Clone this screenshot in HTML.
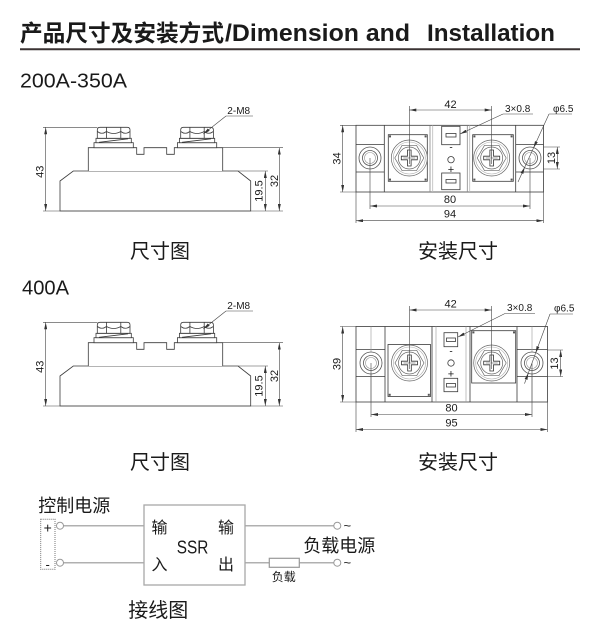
<!DOCTYPE html>
<html><head><meta charset="utf-8">
<style>
html,body{margin:0;padding:0;background:#fff;}
svg{display:block;}
text{font-family:"Liberation Sans","Noto Sans CJK SC",sans-serif;fill:#1a1a1a;}
</style></head><body>
<svg width="600" height="640" viewBox="0 0 600 640" xmlns="http://www.w3.org/2000/svg">
<defs>
<marker id="a" viewBox="0 0 7 3" refX="7" refY="1.5" markerWidth="7" markerHeight="3" markerUnits="userSpaceOnUse" orient="auto-start-reverse"><path d="M0,0L7,1.5L0,3z" fill="#333"/></marker>
<g id="scr" fill="none" stroke="#666" stroke-width="0.7">
<circle r="18" fill="#fff"/>
<circle r="16" stroke="#aaa" stroke-width="0.6"/>
<polygon points="14.5,0 7.25,12.56 -7.25,12.56 -14.5,0 -7.25,-12.56 7.25,-12.56"/>
<circle r="11"/>
<path d="M-8,-1.8H-1.8V-8H1.8V-1.8H8V1.8H1.8V8H-1.8V1.8H-8Z" stroke="#333" stroke-width="0.8"/>
<path d="M-6,0H6M0,-6V6" stroke-width="0.6" stroke="#444"/>
</g>
<g id="hole" fill="none" stroke="#555" stroke-width="0.8">
<circle r="11" fill="#fff"/>
<circle r="7.5"/>
<circle r="5.5" stroke="#999" stroke-width="0.6"/>
</g>
</defs>

<!-- Title -->
<text x="20" y="41" font-size="23" font-weight="bold" textLength="204" lengthAdjust="spacingAndGlyphs">产品尺寸及安装方式</text>
<text x="225" y="41" font-size="24" font-weight="bold" textLength="185" lengthAdjust="spacingAndGlyphs">/Dimension and</text>
<text x="427" y="41" font-size="24" font-weight="bold" textLength="128" lengthAdjust="spacingAndGlyphs">Installation</text>
<line x1="20" y1="49.3" x2="580" y2="49.3" stroke="#3b3333" stroke-width="2"/>

<text x="20" y="87.3" font-size="20" textLength="107" lengthAdjust="spacingAndGlyphs">200A-350A</text>

<!-- ========== TOP LEFT side view ========== -->
<g fill="#fff" stroke="#3a3a3a" stroke-width="0.8">
<path d="M60,211V181L73.3,171H238L250.7,181V211Z"/>
<path d="M88.3,171V147.7H136.7V154.3H144V147.7H166.7V154.3H174.3V147.7H222.7V171"/>
<rect x="94" y="142.7" width="39.3" height="5"/>
<rect x="96" y="138.3" width="35.3" height="4.4"/>
<path d="M99,142.3L128,138.8" fill="none"/>
<path d="M97.3,138.3V130Q97.3,127.3 100,127.3H127.3Q130,127.3 130,130V138.3Z"/>
<path d="M106.5,127.5V138.3M120.8,127.5V138.3M97.3,131.5Q101.9,135 106.5,131.5Q113.7,135.5 120.8,131.5Q125.4,135 130,131.5" fill="none"/>
<rect x="177.4" y="142.7" width="39.3" height="5"/>
<rect x="179.4" y="138.3" width="35.3" height="4.4"/>
<path d="M182,142.3L211,138.8" fill="none"/>
<path d="M180.7,138.3V130Q180.7,127.3 183.4,127.3H210.7Q213.4,127.3 213.4,130V138.3Z"/>
<path d="M189.9,127.5V138.3M204.2,127.5V138.3M180.7,131.5Q185.3,135 189.9,131.5Q197,135.5 204.2,131.5Q208.8,135 213.4,131.5" fill="none"/>
</g>
<g fill="none" stroke="#444" stroke-width="0.6">
<path d="M43,127.3H97.3M43,211H283M222.7,147.7H283M238,171H268M226,116H253"/>
<line x1="45.7" y1="127.3" x2="45.7" y2="211" marker-start="url(#a)" marker-end="url(#a)"/>
<line x1="279.3" y1="147.7" x2="279.3" y2="211" marker-start="url(#a)" marker-end="url(#a)"/>
<line x1="265.3" y1="171" x2="265.3" y2="211" marker-start="url(#a)" marker-end="url(#a)"/>
<line x1="226" y1="116" x2="203.3" y2="134" marker-end="url(#a)"/>
</g>
<g font-size="11">
<text x="40.3" y="171.7" transform="rotate(-90 40.3 171.7)" text-anchor="middle" dominant-baseline="central">43</text>
<text x="275" y="181" transform="rotate(-90 275 181)" text-anchor="middle" dominant-baseline="central">32</text>
<text x="259.3" y="191" transform="rotate(-90 259.3 191)" text-anchor="middle" dominant-baseline="central">19.5</text>
<text x="227.3" y="114" font-size="10">2-M8</text>
</g>

<!-- ========== TOP RIGHT top view ========== -->
<g fill="none" stroke="#3a3a3a" stroke-width="0.8">
<rect x="356" y="125.3" width="187.5" height="66.7" fill="#fff"/>
<path d="M384.3,125.3V192M515.7,125.3V192M356,144.5H384.3M356,172H384.3M515.7,144.5H543.5M515.7,172H543.5"/>
<rect x="388.3" y="134.7" width="39" height="46.6"/>
<rect x="472.7" y="134.7" width="40.6" height="46.6"/>
<path d="M430,125.3V192M467.3,125.3V192" stroke="#888"/>
<path d="M432.7,125.3V192M469.7,125.3V192" stroke="#bbb"/>
<rect x="441.7" y="126.3" width="18.3" height="18.4"/>
<rect x="446" y="133.5" width="10" height="3.5"/>
<rect x="441.7" y="173" width="18.3" height="16.7"/>
<rect x="446" y="179.5" width="10" height="3.5"/>
<circle cx="451" cy="159.7" r="3.2"/>
</g>
<g fill="#555">
<rect x="389" y="135.4" width="2" height="2"/><rect x="424.6" y="135.4" width="2" height="2"/>
<rect x="389" y="178.6" width="2" height="2"/><rect x="424.6" y="178.6" width="2" height="2"/>
<rect x="473.4" y="135.4" width="2" height="2"/><rect x="510.6" y="135.4" width="2" height="2"/>
<rect x="473.4" y="178.6" width="2" height="2"/><rect x="510.6" y="178.6" width="2" height="2"/>
</g>
<use href="#scr" x="409.3" y="158"/>
<use href="#scr" x="491.7" y="158"/>
<use href="#hole" x="370" y="158"/>
<use href="#hole" x="530" y="158"/>
<text x="451" y="148" font-size="10" text-anchor="middle" dominant-baseline="central">-</text>
<text x="451" y="170" font-size="11" text-anchor="middle" dominant-baseline="central">+</text>
<g fill="none" stroke="#444" stroke-width="0.6">
<path d="M409.3,106V158M491.7,106V158M503,114H533M549,114H572M543.5,147H560M543.5,169H560M340,125.3H356M340,192H356M370,158V209M530,158V209M356,192V223M543.5,192V223M533.5,148L524.8,167"/>
<line x1="409.3" y1="110" x2="491.7" y2="110" marker-start="url(#a)" marker-end="url(#a)"/>
<line x1="503" y1="114" x2="460" y2="134" marker-end="url(#a)"/>
<line x1="549" y1="114" x2="533.5" y2="148" marker-end="url(#a)"/>
<line x1="518" y1="182" x2="524.8" y2="167" marker-end="url(#a)"/>
<line x1="557.3" y1="147" x2="557.3" y2="169" marker-start="url(#a)" marker-end="url(#a)"/>
<line x1="342.7" y1="125.3" x2="342.7" y2="192" marker-start="url(#a)" marker-end="url(#a)"/>
<line x1="370" y1="206" x2="530" y2="206" marker-start="url(#a)" marker-end="url(#a)"/>
<line x1="356" y1="220.7" x2="543.5" y2="220.7" marker-start="url(#a)" marker-end="url(#a)"/>
</g>
<g font-size="11">
<text x="450.5" y="108" text-anchor="middle">42</text>
<text x="505" y="112" font-size="10">3×0.8</text>
<text x="553" y="112" font-size="10">φ6.5</text>
<text x="552" y="158" transform="rotate(-90 552 158)" text-anchor="middle" dominant-baseline="central">13</text>
<text x="337.5" y="158.5" transform="rotate(-90 337.5 158.5)" text-anchor="middle" dominant-baseline="central">34</text>
<text x="450" y="203" text-anchor="middle">80</text>
<text x="450" y="217.5" text-anchor="middle">94</text>
</g>

<!-- captions row 1 -->
<text x="130" y="258" font-size="20">尺寸图</text>
<text x="418" y="258" font-size="20">安装尺寸</text>

<text x="22" y="294.5" font-size="20" textLength="47" lengthAdjust="spacingAndGlyphs">400A</text>

<!-- ========== BOTTOM LEFT side view (400A) ========== -->
<g transform="translate(0,195)">
<g fill="#fff" stroke="#3a3a3a" stroke-width="0.8">
<path d="M60,211V181L73.3,171H238L250.7,181V211Z"/>
<path d="M88.3,171V147.7H136.7V154.3H144V147.7H166.7V154.3H174.3V147.7H222.7V171"/>
<rect x="94" y="142.7" width="39.3" height="5"/>
<rect x="96" y="138.3" width="35.3" height="4.4"/>
<path d="M99,142.3L128,138.8" fill="none"/>
<path d="M97.3,138.3V130Q97.3,127.3 100,127.3H127.3Q130,127.3 130,130V138.3Z"/>
<path d="M106.5,127.5V138.3M120.8,127.5V138.3M97.3,131.5Q101.9,135 106.5,131.5Q113.7,135.5 120.8,131.5Q125.4,135 130,131.5" fill="none"/>
<rect x="177.4" y="142.7" width="39.3" height="5"/>
<rect x="179.4" y="138.3" width="35.3" height="4.4"/>
<path d="M182,142.3L211,138.8" fill="none"/>
<path d="M180.7,138.3V130Q180.7,127.3 183.4,127.3H210.7Q213.4,127.3 213.4,130V138.3Z"/>
<path d="M189.9,127.5V138.3M204.2,127.5V138.3M180.7,131.5Q185.3,135 189.9,131.5Q197,135.5 204.2,131.5Q208.8,135 213.4,131.5" fill="none"/>
</g>
<g fill="none" stroke="#444" stroke-width="0.6">
<path d="M43,127.3H97.3M43,211H283M222.7,147.7H283M238,171H268M226,116H253"/>
<line x1="45.7" y1="127.3" x2="45.7" y2="211" marker-start="url(#a)" marker-end="url(#a)"/>
<line x1="279.3" y1="147.7" x2="279.3" y2="211" marker-start="url(#a)" marker-end="url(#a)"/>
<line x1="265.3" y1="171" x2="265.3" y2="211" marker-start="url(#a)" marker-end="url(#a)"/>
<line x1="226" y1="116" x2="203.3" y2="134" marker-end="url(#a)"/>
</g>
<g font-size="11">
<text x="40.3" y="171.7" transform="rotate(-90 40.3 171.7)" text-anchor="middle" dominant-baseline="central">43</text>
<text x="275" y="181" transform="rotate(-90 275 181)" text-anchor="middle" dominant-baseline="central">32</text>
<text x="259.3" y="191" transform="rotate(-90 259.3 191)" text-anchor="middle" dominant-baseline="central">19.5</text>
<text x="227.3" y="114" font-size="10">2-M8</text>
</g>
</g>

<!-- ========== BOTTOM RIGHT top view (400A) ========== -->
<g fill="none" stroke="#3a3a3a" stroke-width="0.8">
<rect x="356" y="326.5" width="191.5" height="75.5" fill="#fff"/>
<path d="M385,326.5V402M432,326.5V402M470,326.5V402M517,326.5V402M356,349.5H385M356,376.5H385M517,349.5H547.5M517,376.5H547.5"/>
<path d="M371,326.5V402M436,326.5V402M466,326.5V402M532,326.5V402" stroke="#999" stroke-width="0.6"/>
<rect x="388" y="344.5" width="42.5" height="52"/>
<rect x="471.7" y="330.7" width="44" height="52.3"/>
<rect x="444" y="332.7" width="13.7" height="14"/>
<rect x="446.5" y="338" width="9" height="3.5"/>
<rect x="444" y="378.3" width="13.7" height="13.4"/>
<rect x="446.5" y="383.5" width="9" height="3.5"/>
<circle cx="451" cy="363" r="3.2"/>
</g>
<g fill="#555">
<rect x="388.7" y="393.8" width="2" height="2"/><rect x="427.8" y="393.8" width="2" height="2"/>
<rect x="472.4" y="331.4" width="2" height="2"/><rect x="513" y="331.4" width="2" height="2"/>
</g>
<use href="#scr" x="409.5" y="363"/>
<use href="#scr" x="491.7" y="363"/>
<use href="#hole" x="371" y="363"/>
<use href="#hole" x="532" y="363"/>
<text x="451" y="352" font-size="10" text-anchor="middle" dominant-baseline="central">-</text>
<text x="451" y="374.5" font-size="11" text-anchor="middle" dominant-baseline="central">+</text>
<g fill="none" stroke="#444" stroke-width="0.6">
<path d="M409.5,306V363M491.7,306V363M505,313.5H535M550,314H573M547.5,350H563M547.5,376.5H563M340,326.5H356M340,402H356M371,363V417M532,363V417M356,402V432M547.5,402V432M535.6,353.1L528.4,372.9"/>
<line x1="409.5" y1="310" x2="491.7" y2="310" marker-start="url(#a)" marker-end="url(#a)"/>
<line x1="505" y1="313.5" x2="458" y2="337" marker-end="url(#a)"/>
<line x1="550" y1="314" x2="535.6" y2="353.1" marker-end="url(#a)"/>
<line x1="524.5" y1="383.6" x2="528.4" y2="372.9" marker-end="url(#a)"/>
<line x1="560.7" y1="350" x2="560.7" y2="376.5" marker-start="url(#a)" marker-end="url(#a)"/>
<line x1="342.7" y1="326.5" x2="342.7" y2="402" marker-start="url(#a)" marker-end="url(#a)"/>
<line x1="371" y1="414.5" x2="532" y2="414.5" marker-start="url(#a)" marker-end="url(#a)"/>
<line x1="356" y1="429.5" x2="547.5" y2="429.5" marker-start="url(#a)" marker-end="url(#a)"/>
</g>
<g font-size="11">
<text x="450.6" y="307.5" text-anchor="middle">42</text>
<text x="507" y="311" font-size="10">3×0.8</text>
<text x="554" y="311.5" font-size="10">φ6.5</text>
<text x="555" y="363.5" transform="rotate(-90 555 363.5)" text-anchor="middle" dominant-baseline="central">13</text>
<text x="337.5" y="364" transform="rotate(-90 337.5 364)" text-anchor="middle" dominant-baseline="central">39</text>
<text x="451.5" y="411.5" text-anchor="middle">80</text>
<text x="451.5" y="426.5" text-anchor="middle">95</text>
</g>

<!-- captions row 2 -->
<text x="130" y="469" font-size="20">尺寸图</text>
<text x="418" y="469" font-size="20">安装尺寸</text>

<!-- ========== Wiring diagram ========== -->
<text x="38.3" y="512" font-size="18">控制电源</text>
<rect x="40.7" y="519.3" width="14.3" height="50" fill="none" stroke="#777" stroke-width="1" stroke-dasharray="1,1"/>
<text x="47.7" y="527.5" font-size="14" text-anchor="middle" dominant-baseline="central">+</text>
<text x="47.7" y="564.5" font-size="13" text-anchor="middle" dominant-baseline="central">-</text>
<g fill="none" stroke="#b0b0b0" stroke-width="1.5">
<path d="M63.5,525.7H144M63.5,562.7H144M245,525.7H333.8M245,562.7H269.3M299.3,562.7H333.8"/>
</g>
<rect x="144" y="505" width="101" height="80" fill="none" stroke="#a8a8a8" stroke-width="1.3"/>
<rect x="269.3" y="558.3" width="30" height="9" fill="#fff" stroke="#999" stroke-width="1.2"/>
<g fill="#fff" stroke="#999" stroke-width="1">
<circle cx="60" cy="525.7" r="3.5"/>
<circle cx="60" cy="562.7" r="3.5"/>
<circle cx="337.3" cy="525.7" r="3.5"/>
<circle cx="337.3" cy="562.7" r="3.5"/>
</g>
<text x="343.5" y="530" font-size="13">~</text>
<text x="343.5" y="567" font-size="13">~</text>
<text x="151.5" y="533" font-size="16">输</text>
<text x="151.5" y="570" font-size="16">入</text>
<text x="218" y="533" font-size="16">输</text>
<text x="218" y="570" font-size="16">出</text>
<text x="176.7" y="553.3" font-size="18" textLength="31.6" lengthAdjust="spacingAndGlyphs">SSR</text>
<text x="271.7" y="581" font-size="12">负载</text>
<text x="303.3" y="552" font-size="18">负载电源</text>
<text x="128.3" y="617" font-size="20">接线图</text>
</svg>
</body></html>
